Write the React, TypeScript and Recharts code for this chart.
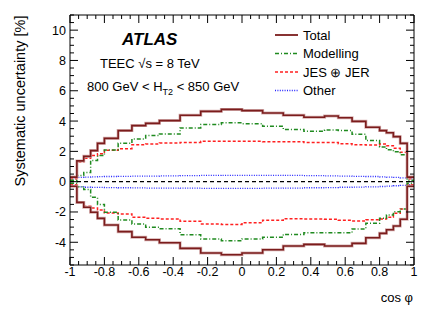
import { ComposedChart, Line, XAxis, YAxis, ReferenceLine } from "recharts";

// bin edges in cos(phi)
const EDGES = [
  -1, -0.96, -0.92, -0.88, -0.84, -0.8, -0.72, -0.64, -0.56, -0.48, -0.36, -0.24, -0.12,
  0, 0.12, 0.24, 0.36, 0.48, 0.56, 0.64, 0.72, 0.8, 0.84, 0.88, 0.92, 0.96, 1,
];

// uncertainties [%] per bin (26 bins)
const TOTAL_UP = [0.3, 1.37, 1.67, 2.05, 2.53, 2.86, 3.37, 3.7, 3.85, 4.03, 4.38, 4.64, 4.77, 4.69, 4.53, 4.38, 4.25, 4.33, 4.22, 3.98, 3.59, 3.37, 3.23, 2.97, 2.53, 0.3];
const TOTAL_DN = [-0.3, -1.37, -1.69, -2.02, -2.42, -2.86, -3.3, -3.67, -3.83, -4.03, -4.4, -4.71, -4.82, -4.71, -4.49, -4.25, -4.14, -4.25, -4.25, -4.07, -3.7, -3.41, -3.17, -2.93, -2.48, -0.3];
const MOD_UP = [0.1, 0.4, 0.6, 1.4, 1.72, 2.09, 2.53, 2.82, 3.04, 3.15, 3.55, 3.78, 3.89, 3.83, 3.65, 3.45, 3.32, 3.41, 3.37, 3.13, 2.71, 2.29, 2.1, 1.97, 1.77, 0.1];
const MOD_DN = [-0.1, -0.33, -0.52, -1.03, -1.5, -2.02, -2.53, -2.8, -3.01, -3.1, -3.5, -3.78, -3.9, -3.78, -3.67, -3.48, -3.37, -3.37, -3.37, -3.12, -2.75, -2.42, -2.2, -1.98, -1.8, -0.1];
const JES_UP = [0.2, 1.3, 1.55, 1.72, 1.85, 2.07, 2.18, 2.43, 2.49, 2.55, 2.59, 2.66, 2.66, 2.66, 2.64, 2.64, 2.59, 2.59, 2.51, 2.44, 2.42, 2.49, 2.37, 2.2, 1.94, 0.2];
const JES_DN = [-0.2, -1.35, -1.63, -1.74, -1.87, -2.07, -2.13, -2.35, -2.42, -2.46, -2.62, -2.79, -2.82, -2.71, -2.55, -2.44, -2.46, -2.48, -2.55, -2.6, -2.51, -2.46, -2.35, -2.09, -1.8, -0.2];
const OTHER_UP = [0.2, 0.28, 0.3, 0.32, 0.33, 0.34, 0.35, 0.36, 0.37, 0.38, 0.4, 0.41, 0.42, 0.42, 0.42, 0.41, 0.4, 0.38, 0.37, 0.35, 0.34, 0.32, 0.3, 0.28, 0.25, 0.2];
const OTHER_DN = [-0.25, -0.35, -0.37, -0.38, -0.38, -0.39, -0.4, -0.41, -0.42, -0.42, -0.43, -0.44, -0.44, -0.44, -0.43, -0.42, -0.4, -0.39, -0.37, -0.36, -0.34, -0.32, -0.3, -0.27, -0.24, -0.2];

const X_MAJOR = [-1, -0.8, -0.6, -0.4, -0.2, 0, 0.2, 0.4, 0.6, 0.8, 1];
const Y_MAJOR = [-4, -2, 0, 2, 4, 6, 8, 10];

const X_TICKS: number[] = [];
for (let i = 0; i <= 40; i++) X_TICKS.push(Math.round((-1 + i * 0.05) * 100) / 100);
const Y_TICKS: number[] = [];
for (let i = 0; i <= 33; i++) Y_TICKS.push(-5.5 + i * 0.5);

const SERIES = [
  { up: "otherUp", dn: "otherDn", name: "Other", color: "#2626ff", dash: "1 1.4", width: 1.3 },
  { up: "jesUp", dn: "jesDn", name: "JES \u2295 JER", color: "#ff2020", dash: "3 2", width: 1.5 },
  { up: "modUp", dn: "modDn", name: "Modelling", color: "#1f8a1f", dash: "4 2 1 2", width: 1.5 },
];

const TOTAL_COLOR = "#7b1c1c";

const rows = EDGES.map((x, i) => {
  const b = Math.min(i, TOTAL_UP.length - 1);
  return {
    x,
    totalUp: TOTAL_UP[b],
    totalDn: TOTAL_DN[b],
    modUp: MOD_UP[b],
    modDn: MOD_DN[b],
    jesUp: JES_UP[b],
    jesDn: JES_DN[b],
    otherUp: OTHER_UP[b],
    otherDn: OTHER_DN[b],
  };
});

const FONT = "'Liberation Sans', Arial, Helvetica, sans-serif";
const isMajor = (v: number, list: number[]) => list.some((m) => Math.abs(m - v) < 1e-6);

const BottomTick = (p: any) => {
  const major = isMajor(p.payload.value, X_MAJOR);
  return (
    <g>
      <line x1={p.x} x2={p.x} y1={p.y} y2={p.y - (major ? 8 : 4)} stroke="#000" />
      {major && (
        <text x={p.x} y={p.y + 11} textAnchor="middle" fontSize={12.5} fontFamily={FONT} fill="#000">
          {String(p.payload.value)}
        </text>
      )}
    </g>
  );
};

const TopTick = (p: any) => {
  const major = isMajor(p.payload.value, X_MAJOR);
  return <line x1={p.x} x2={p.x} y1={p.y} y2={p.y + (major ? 8 : 4)} stroke="#000" />;
};

const LeftTick = (p: any) => {
  const major = isMajor(p.payload.value, Y_MAJOR);
  return (
    <g>
      <line x1={p.x} x2={p.x + (major ? 8 : 4)} y1={p.y} y2={p.y} stroke="#000" />
      {major && (
        <text x={p.x - 4} y={p.y + 4.5} textAnchor="end" fontSize={12.5} fontFamily={FONT} fill="#000">
          {String(p.payload.value)}
        </text>
      )}
    </g>
  );
};

const RightTick = (p: any) => {
  const major = isMajor(p.payload.value, Y_MAJOR);
  return <line x1={p.x} x2={p.x - (major ? 8 : 4)} y1={p.y} y2={p.y} stroke="#000" />;
};

const LEGEND = [
  { name: "Total", color: TOTAL_COLOR, dash: undefined, width: 1.8 },
  { name: SERIES[2].name, color: SERIES[2].color, dash: SERIES[2].dash, width: 1.5 },
  { name: SERIES[1].name, color: SERIES[1].color, dash: SERIES[1].dash, width: 1.5 },
  { name: SERIES[0].name, color: SERIES[0].color, dash: SERIES[0].dash, width: 1.3 },
];

const stepLine = (key: string, dataKey: string, stroke: string, width: number, dash?: string) => (
  <Line
    key={key}
    dataKey={dataKey}
    type="stepAfter"
    stroke={stroke}
    strokeWidth={width}
    strokeDasharray={dash}
    dot={false}
    activeDot={false}
    isAnimationActive={false}
  />
);

export default function App() {
  return (
    <div style={{ position: "absolute", left: 0, top: 0, width: 436, height: 316, background: "#fff" }}>
      <ComposedChart
        width={436}
        height={316}
        data={rows}
        margin={{ top: 14, right: 21, bottom: 0, left: 0 }}
        style={{ fontFamily: FONT }}
      >
        <YAxis
          type="number"
          domain={[-5.5, 11]}
          allowDataOverflow
          ticks={Y_TICKS}
          interval={0}
          width={70}
          tickSize={0}
          tickMargin={0}
          tickLine={false}
          axisLine={{ stroke: "#000" }}
          tick={(p: any) => <LeftTick {...p} />}
        />
        <YAxis
          yAxisId="right"
          orientation="right"
          type="number"
          domain={[-5.5, 11]}
          allowDataOverflow
          ticks={Y_TICKS}
          interval={0}
          width={1}
          tickSize={0}
          tickMargin={0}
          tickLine={false}
          axisLine={{ stroke: "#000" }}
          tick={(p: any) => <RightTick {...p} />}
        />
        <XAxis
          dataKey="x"
          type="number"
          domain={[-1, 1]}
          allowDataOverflow
          ticks={X_TICKS}
          interval={0}
          height={51}
          tickSize={0}
          tickMargin={0}
          tickLine={false}
          axisLine={{ stroke: "#000" }}
          tick={(p: any) => <BottomTick {...p} />}
        />
        <XAxis
          xAxisId="top"
          dataKey="x"
          orientation="top"
          type="number"
          domain={[-1, 1]}
          allowDataOverflow
          ticks={X_TICKS}
          interval={0}
          height={1}
          tickSize={0}
          tickMargin={0}
          tickLine={false}
          axisLine={{ stroke: "#000" }}
          tick={(p: any) => <TopTick {...p} />}
        />
        <ReferenceLine y={0} stroke="#000" strokeWidth={1.2} strokeDasharray="4 3" />
        {/* invisible series so the mirrored axes get a scale */}
        <Line
          xAxisId="top"
          yAxisId="right"
          dataKey="totalUp"
          type="stepAfter"
          stroke="none"
          dot={false}
          activeDot={false}
          isAnimationActive={false}
        />
        {SERIES.flatMap((s) => [s.up, s.dn].map((k) => stepLine(k, k, s.color, s.width, s.dash)))}
        {["totalUp", "totalDn"].map((k) => stepLine(k + "halo", k, "#d6b0b0", 3))}
        {["totalUp", "totalDn"].map((k) => stepLine(k, k, TOTAL_COLOR, 1.6))}
      </ComposedChart>
      <svg
        width={436}
        height={316}
        style={{ position: "absolute", left: 0, top: 0, pointerEvents: "none" }}
        fontFamily={FONT}
      >
        <text x={122} y={45} fontSize={17} fontWeight="bold" fontStyle="italic">
          ATLAS
        </text>
        <text x={100} y={68} fontSize={13}>
          TEEC {"\u221As"} = 8 TeV
        </text>
        <text x={87} y={91} fontSize={13}>
          <tspan>800 GeV &lt; H</tspan>
          <tspan fontSize={9} dy={4}>T2</tspan>
          <tspan dy={-4}> &lt; 850 GeV</tspan>
        </text>
        <text x={413} y={302} fontSize={13} textAnchor="end">
          cos {"\u03C6"}
        </text>
        <text transform="translate(25,101) rotate(-90)" fontSize={14.5} textAnchor="middle">
          Systematic uncertainty [%]
        </text>
        {LEGEND.map((l, i) => {
          const y = 35 + i * 18.5;
          return (
            <g key={l.name}>
              <line x1={275} x2={298} y1={y} y2={y} stroke={l.color} strokeWidth={l.width} strokeDasharray={l.dash} />
              <text x={303} y={y + 4.5} fontSize={13}>
                {l.name}
              </text>
            </g>
          );
        })}
      </svg>
    </div>
  );
}
